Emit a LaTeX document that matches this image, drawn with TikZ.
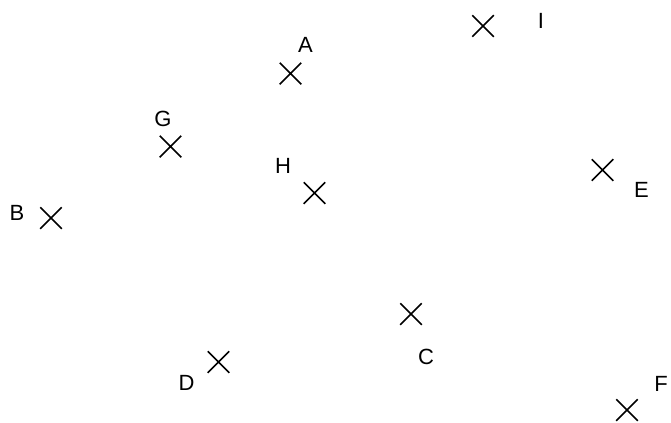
\documentclass[tikz,border=0pt]{standalone}
\usepackage{fontspec}
\setmainfont{Liberation Sans}
\usepackage{tikz}
\usetikzlibrary{shapes.misc}
\tikzset{
  pt/.style={draw=black, cross out, minimum size=20bp, inner sep=0pt, line width=1.5bp},
  lbl/.style={font=\fontsize{22bp}{26bp}\selectfont, inner sep=0pt, text=black},
}
\begin{document}
\begin{tikzpicture}[x=1bp, y=-1bp]
  \useasboundingbox (0,0) rectangle (671,422);
  % points
  \node[pt] (ptA) at (290.5,73.5) {};
  \node[pt] (ptB) at (51,218) {};
  \node[pt] (ptC) at (411,314) {};
  \node[pt] (ptD) at (218.5,362) {};
  \node[pt] (ptE) at (602.5,170) {};
  \node[pt] (ptF) at (627,410) {};
  \node[pt] (ptG) at (170.5,146.5) {};
  \node[pt] (ptH) at (314.5,193) {};
  \node[pt] (ptI) at (483,26) {};
  % labels
  \node[lbl] (labA) at (305.5,45) {A};
  \node[lbl] (labB) at (17,213) {B};
  \node[lbl] (labC) at (426,356.5) {C};
  \node[lbl] (labD) at (186.5,383) {D};
  \node[lbl] (labE) at (641.5,189.5) {E};
  \node[lbl] (labF) at (661,383.5) {F};
  \node[lbl] (labG) at (163,119) {G};
  \node[lbl] (labH) at (283,166) {H};
  \node[lbl] (labI) at (541,21) {I};
\end{tikzpicture}
\end{document}
